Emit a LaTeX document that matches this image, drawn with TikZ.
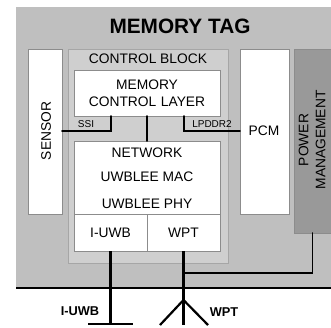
\documentclass[tikz,border=0pt]{standalone}
\usepackage{fontspec}
\setmainfont{Liberation Sans}
\usetikzlibrary{positioning}
\definecolor{tagGray}{gray}{0.75}
\definecolor{ctrlGray}{gray}{0.81}
\definecolor{pwrGray}{gray}{0.60}
\tikzset{
  block/.style={inner sep=0pt,outer sep=0pt,minimum width=#1},
  white box/.style={fill=white,draw=black!45,line width=0.5pt},
  label/.style={inner sep=0pt,font=\fontsize{13.8}{16}\selectfont,align=center},
  small label/.style={inner sep=0pt,font=\fontsize{10}{11}\selectfont},
  wire/.style={line width=1.6pt,line cap=round},
  bus/.style={line width=2.2pt}
}
\begin{document}
\begin{tikzpicture}[x=1pt,y=-1pt]
 \useasboundingbox (0,0) rectangle (331,327);
 % background blocks
 \node[block=315pt,minimum height=281pt,fill=tagGray,anchor=north west] (tag) at (16,7) {};
 \node[block=160pt,minimum height=214pt,fill=ctrlGray,draw=black!35,line width=0.5pt,anchor=north west] (ctrl) at (68,49) {};
 \node[block=34pt,minimum height=165pt,white box,anchor=north west] (sensor) at (28,49) {};
 \node[block=49pt,minimum height=165pt,white box,anchor=north west] (pcm) at (240,49) {};
 \node[block=37pt,minimum height=184pt,fill=pwrGray,draw=black!45,line width=0.5pt,anchor=north west] (power) at (294,49) {};
 \node[block=146pt,minimum height=46pt,white box,anchor=north west] (memory) at (74,70) {};
 \node[block=146pt,minimum height=73pt,white box,anchor=north west] (network) at (74,141) {};
 \node[block=73pt,minimum height=37pt,white box,anchor=north west] (iuwb) at (74,214) {};
 \node[block=73pt,minimum height=37pt,white box,anchor=north west] (wpt) at (147,214) {};
 % texts
 \node[inner sep=0pt,font=\fontsize{20.8}{22}\selectfont\bfseries] (title) at (180,26) {MEMORY TAG};
 \node[label] (ctrlText) at (148,59) {CONTROL BLOCK};
 \node[label,text width=140pt] (memText) at (147,93.5) {MEMORY\\[1pt]CONTROL LAYER};
 \node[label] (netText) at (147,153) {NETWORK};
 \node[label] (macText) at (147,177) {UWBLEE MAC};
 \node[label] (phyText) at (147,204) {UWBLEE PHY};
 \node[label] at (iuwb.center) {I-UWB};
 \node[label] at (wpt.center) {WPT};
 \node[label,rotate=90] (sensorText) at (46,131) {SENSOR};
 \node[label] (pcmText) at (264,131) {PCM};
 \node[label,rotate=90] (powerText) at (312,140) {POWER\\[1pt]MANAGEMENT};
 \node[small label] (ssiText) at (86,124) {SSI};
 \node[small label] (lpText) at (212,124) {LPDDR2};
 % bus lines
 \coordinate (ssiUp) at (111,116);
 \coordinate (lpUp) at (184,116);
 \draw[wire] (sensor.east |- 0,131) -- (111,131) -- (ssiUp);
 \draw[wire] (memory.south) -- (network.north);
 \draw[wire] (lpUp) -- (184,131) -- (pcm.west |- 0,131);
 % outside the tag
 \coordinate (edgeL) at (16,288);
 \coordinate (edgeR) at (331,288);
 \draw[line width=1.3pt] (edgeL) -- (edgeR);
 \coordinate (iuwbEnd) at (iuwb.south |- 0,324);
 \coordinate (wptEnd) at (wpt.south |- 0,325);
 \coordinate (wptFork) at (wpt.south |- 0,300);
 \coordinate (barL) at (88,324);
 \coordinate (barR) at (133,324);
 \coordinate (forkL) at (160,325);
 \coordinate (forkR) at (208,325);
 \coordinate (powerTurn) at (power.south |- 0,273);
 \coordinate (powerJoin) at (wpt.south |- 0,273);
 \draw[bus] (iuwb.south) -- (iuwbEnd);
 \draw[bus] (barL) -- (barR);
 \draw[bus] (wpt.south) -- (wptEnd);
 \draw[bus] (forkL) -- (wptFork) -- (forkR);
 \draw[wire] (power.south) -- (powerTurn) -- (powerJoin);
 \node[inner sep=0pt,font=\fontsize{12.8}{14}\selectfont\bfseries] (iuwbText) at (80,311) {I-UWB};
 \node[inner sep=0pt,font=\fontsize{12.8}{14}\selectfont\bfseries] (wptText) at (224,312) {WPT};
\end{tikzpicture}
\end{document}
